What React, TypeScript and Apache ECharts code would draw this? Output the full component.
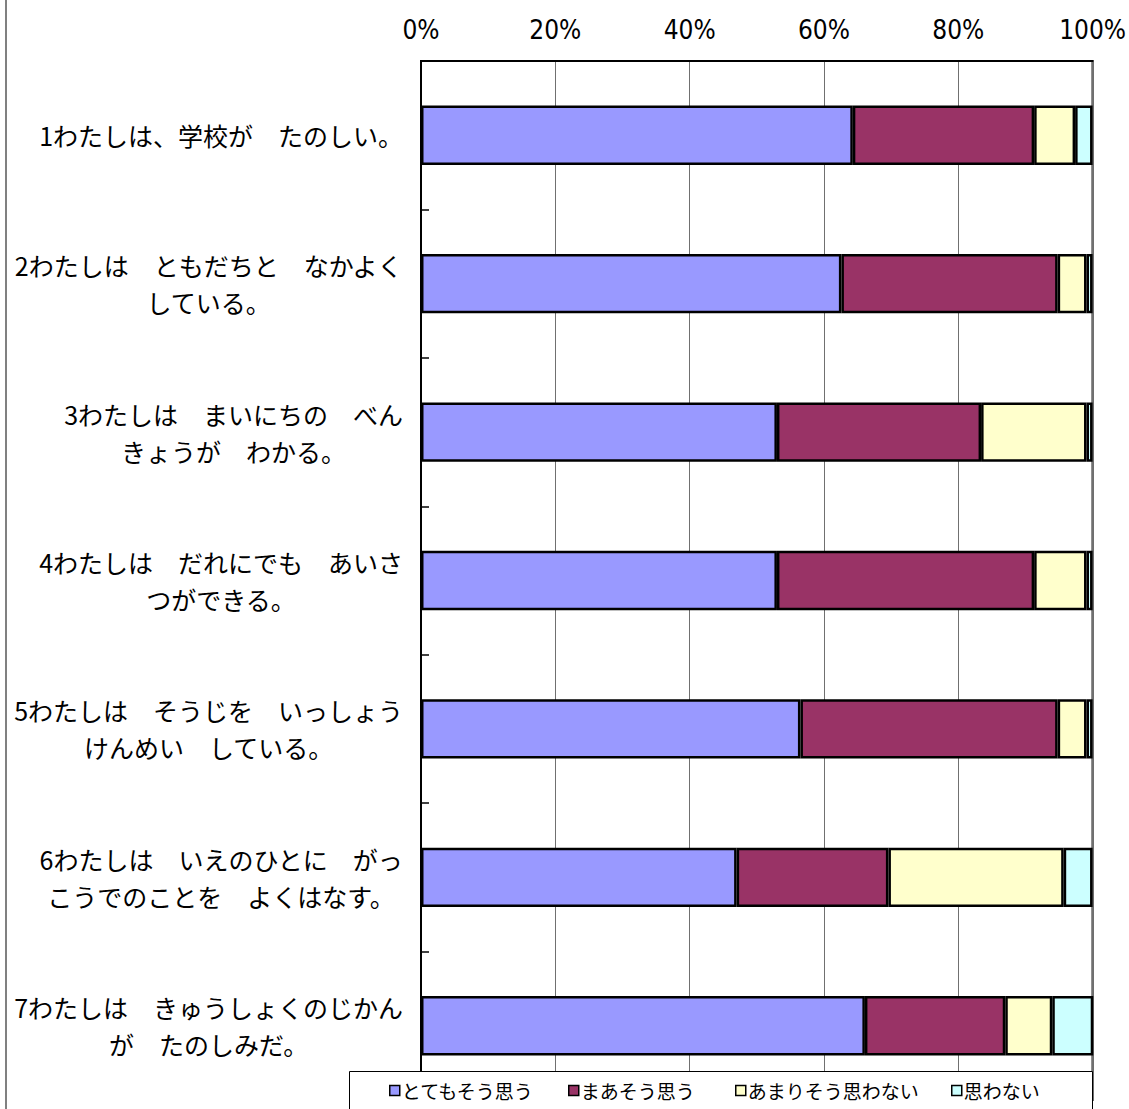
import React, { useEffect, useRef } from "react";
import * as echarts from "echarts";

const categories = [
  "1わたしは、学校が　たのしい。",
  "2わたしは　ともだちと　なかよく\nしている。",
  "3わたしは　まいにちの　べん\nきょうが　わかる。",
  "4わたしは　だれにでも　あいさ\nつができる。",
  "5わたしは　そうじを　いっしょう\nけんめい　している。",
  "6わたしは　いえのひとに　がっ\nこうでのことを　よくはなす。",
  "7わたしは　きゅうしょくのじかん\nが　たのしみだ。",
];

const seriesNames = ["とてもそう思う", "まあそう思う", "あまりそう思わない", "思わない"];

const totemo = [64.3, 62.6, 53.0, 53.0, 56.5, 47.0, 66.1];
const maa = [27.0, 32.2, 30.4, 38.3, 38.3, 22.6, 20.9];
const amari = [6.1, 4.3, 15.7, 7.8, 4.3, 26.1, 7.0];
const omowanai = [2.6, 0.9, 0.9, 0.9, 0.9, 4.3, 6.1];

const colors = ["#9999FF", "#993366", "#FFFFCC", "#CCFFFF"];
const legendLefts = [389, 568, 735, 951];

const JP = "'Noto Sans CJK JP', 'Noto Sans', sans-serif";
const NUM = "'Liberation Sans Narrow', 'DejaVu Sans Condensed', 'Liberation Sans', sans-serif";

export default function App() {
  const ref = useRef<HTMLDivElement>(null);
  useEffect(() => {
    if (!ref.current) return;
    const chart = echarts.init(ref.current, undefined, { renderer: "svg" });
    const values = [totemo, maa, amari, omowanai];
    chart.setOption({
      animation: false,
      backgroundColor: "#fff",
      grid: {
        left: 421,
        top: 61,
        width: 672,
        height: 1039,
        show: true,
        backgroundColor: "#fff",
        borderColor: "#000",
        borderWidth: 2,
        containLabel: false,
      },
      xAxis: {
        type: "value",
        position: "top",
        min: 0,
        max: 100,
        interval: 20,
        axisLine: { show: true, lineStyle: { color: "#000", width: 2 } },
        axisTick: { show: false },
        splitLine: { show: true, lineStyle: { color: "#707070", width: 1 } },
        axisLabel: {
          formatter: "{value}%",
          fontFamily: NUM,
          fontSize: 26,
          color: "#000",
          margin: 18,
        },
      },
      yAxis: {
        type: "category",
        inverse: true,
        position: "left",
        data: categories,
        axisLine: { show: true, lineStyle: { color: "#000", width: 2 } },
        axisTick: { show: true, inside: true, length: 8, lineStyle: { color: "#000", width: 1.5 } },
        splitLine: { show: false },
        axisLabel: {
          margin: 18,
          formatter: (v: string) => v.split("\n").map((l) => `{c|${l}}`).join("\n"),
          rich: {
            c: {
              align: "center",
              fontFamily: JP,
              fontSize: 25,
              lineHeight: 37,
              color: "#000",
            },
          },
        },
      },
      legend: seriesNames.map((n, i) => ({
        data: [n],
        left: legendLefts[i],
        top: 1081,
        padding: 0,
        itemWidth: 10,
        itemHeight: 10,
        icon: "rect",
        selectedMode: false,
        z: 20,
        itemStyle: { borderColor: "#000", borderWidth: 1.5 },
        textStyle: { fontFamily: JP, fontSize: 19, color: "#000", padding: [0, 0, 0, -3] },
      })),
      graphic: [
        {
          type: "rect",
          z: 10,
          shape: { x: 349.5, y: 1071.5, width: 743, height: 60 },
          style: { fill: "#fff", stroke: "#000", lineWidth: 1 },
        },
        {
          type: "line",
          z: 10,
          shape: { x1: 6, y1: 0, x2: 6, y2: 1109 },
          style: { stroke: "#808080", lineWidth: 2 },
        },
      ],
      series: seriesNames.map((n, i) => ({
        name: n,
        type: "bar",
        stack: "total",
        barCategoryGap: "60%",
        data: values[i],
        itemStyle: { color: colors[i], borderColor: "#000", borderWidth: 2.5 },
        emphasis: { disabled: true },
      })),
    });
    return () => chart.dispose();
  }, []);
  return (
    <div
      ref={ref}
      style={{ position: "fixed", left: 0, top: 0, width: 1129, height: 1109 }}
    />
  );
}
